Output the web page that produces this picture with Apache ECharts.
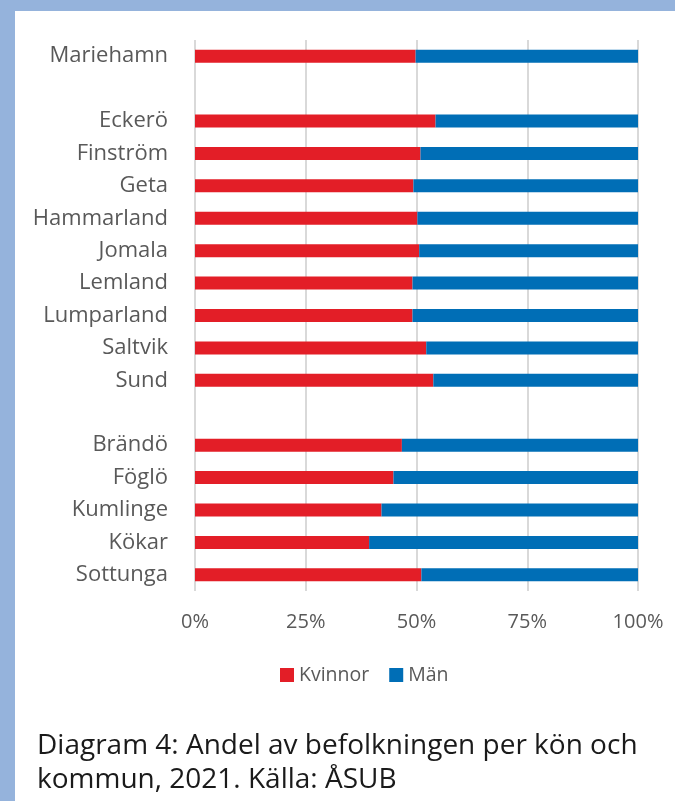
<!DOCTYPE html>
<html>
<head>
<meta charset="utf-8">
<script src="https://cdn.jsdelivr.net/npm/echarts@6/dist/echarts.min.js"></script>
<style>
  html, body { margin: 0; padding: 0; background: #fff; }
  #chart { width: 675px; height: 801px; }
</style>
</head>
<body>
<div id="chart"></div>
<script>
// kommuner (tomma rader = mellanrum mellan regionerna)
var kommuner = ['Mariehamn', '', 'Eckerö', 'Finström', 'Geta', 'Hammarland', 'Jomala',
  'Lemland', 'Lumparland', 'Saltvik', 'Sund', '', 'Brändö', 'Föglö', 'Kumlinge', 'Kökar', 'Sottunga'];

// andel kvinnor resp. män, %
var kvinnor = [49.8, '-', 54.3, 50.9, 49.3, 50.2, 50.6, 49.1, 49.1, 52.2, 53.8, '-', 46.7, 44.8, 42.1, 39.3, 51.1];
var man = [50.2, '-', 45.7, 49.1, 50.7, 49.8, 49.4, 50.9, 50.9, 47.8, 46.2, '-', 53.3, 55.2, 57.9, 60.7, 48.9];

var xTicks = [0, 25, 50, 75, 100];

var textGrey = '#595959';
var font = '"Open Sans", "Noto Sans", sans-serif';

var myChart = echarts.init(document.getElementById('chart'));

var option = {
  animation: false,
  backgroundColor: '#fff',
  textStyle: { fontFamily: font },
  graphic: [
    { type: 'rect', shape: { x: 0, y: 0, width: 675, height: 11 }, style: { fill: '#95B3DC' } },
    { type: 'rect', shape: { x: 0, y: 0, width: 15, height: 801 }, style: { fill: '#95B3DC' } },
    {
      type: 'text', left: 37, top: 729,
      style: {
        text: 'Diagram 4: Andel av befolkningen per kön och\nkommun, 2021. Källa: ÅSUB',
        font: '28px "Open Sans", "Noto Sans", sans-serif',
        fill: '#1a1a1a',
        lineHeight: 34
      }
    }
  ],
  grid: { left: 195, right: 37, top: 40, bottom: 210 },
  legend: {
    data: ['Kvinnor', 'Män'],
    bottom: 111,
    left: 275,
    icon: 'rect',
    itemWidth: 14,
    itemHeight: 14,
    itemGap: 20,
    textStyle: { color: textGrey, fontSize: 19.5, fontFamily: font }
  },
  xAxis: {
    type: 'value',
    min: 0,
    max: 100,
    interval: 25,
    axisLine: { show: false },
    axisTick: { show: false },
    splitLine: { lineStyle: { color: '#D9D9D9', width: 2 } },
    axisLabel: {
      color: textGrey, fontSize: 20, margin: 21,
      formatter: function (v) { return xTicks.indexOf(v) >= 0 ? v + '%' : ''; }
    }
  },
  yAxis: {
    type: 'category',
    inverse: true,
    data: kommuner,
    axisLine: { show: false },
    axisTick: { show: false },
    axisLabel: { color: textGrey, fontSize: 22, margin: 27 }
  },
  series: [
    {
      name: 'Kvinnor', type: 'bar', stack: 'kon', data: kvinnor,
      barWidth: 13, itemStyle: { color: '#E31E27' }
    },
    {
      name: 'Män', type: 'bar', stack: 'kon', data: man,
      barWidth: 13, itemStyle: { color: '#006EB6' }
    }
  ]
};

myChart.setOption(option);
</script>
</body>
</html>
